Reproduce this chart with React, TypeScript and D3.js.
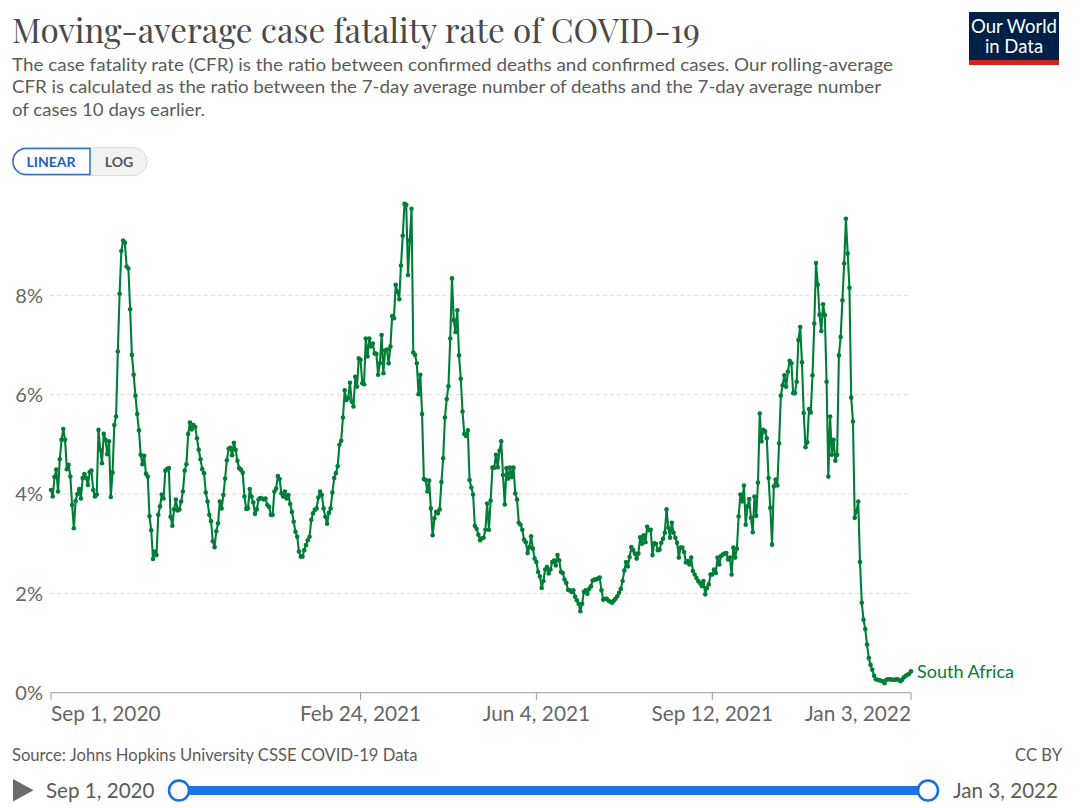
import React from "react";
import * as d3 from "d3";

// ---- Data: daily rolling-average CFR (%) for South Africa, starting 2020-09-01 ----
const seriesName = "South Africa";
const startDate = "2020-09-01";
const endDate = "2022-01-03";

// 2020-09-01 .. 2020-12-29
const cfrSepDec2020 = [
  4.08, 3.95, 4.34, 4.49, 4.05, 4.70, 5.09, 5.31, 5.09, 4.50,
  4.59, 4.35, 3.78, 3.31, 3.86, 4.00, 4.10, 3.91, 4.32, 4.40,
  4.32, 4.18, 4.44, 4.47, 4.08, 3.95, 3.99, 5.29, 4.89, 4.62,
  5.21, 5.09, 4.80, 5.06, 3.94, 4.43, 5.39, 5.56, 6.87, 8.03,
  8.89, 9.10, 9.06, 8.58, 8.54, 7.72, 6.80, 6.40, 5.98, 5.61,
  5.28, 4.79, 4.60, 4.77, 4.41, 4.35, 3.55, 3.27, 2.69, 2.84,
  2.77, 3.58, 3.75, 3.99, 3.91, 4.47, 4.50, 4.52, 3.54, 3.36,
  3.69, 3.89, 3.67, 3.69, 3.85, 4.05, 4.47, 4.60, 5.21, 5.44,
  5.30, 5.39, 5.35, 5.12, 4.89, 4.70, 4.50, 4.42, 4.03, 3.85,
  3.58, 3.45, 3.05, 2.93, 3.25, 3.41, 3.85, 3.71, 3.98, 4.31,
  4.68, 4.91, 4.93, 4.78, 5.03, 4.89, 4.67, 4.52, 4.49, 4.43,
  3.95, 3.70, 3.71, 4.10, 3.95, 3.83, 3.60, 3.69, 3.89, 3.92,
];

// 2020-12-30 .. 2021-04-17
const cfrDec2020Apr2021 = [
  3.91, 3.89, 3.91, 3.78, 3.74, 3.58, 3.58, 4.05, 4.11, 4.36,
  4.30, 4.01, 3.95, 4.05, 3.91, 3.98, 3.80, 3.64, 3.44, 3.24,
  3.14, 2.84, 2.74, 2.74, 2.87, 2.97, 3.07, 3.14, 3.48, 3.61,
  3.68, 3.71, 3.93, 4.05, 3.98, 3.71, 3.54, 3.40, 3.62, 3.71,
  4.03, 4.32, 4.42, 4.56, 4.99, 5.07, 5.54, 6.09, 5.89, 5.93,
  6.24, 5.86, 5.76, 6.36, 6.16, 6.73, 6.70, 6.23, 6.21, 7.13,
  6.77, 7.13, 6.97, 7.03, 6.83, 6.82, 6.40, 6.63, 7.20, 6.43,
  6.89, 6.91, 6.63, 6.97, 7.58, 7.54, 8.21, 8.07, 7.92, 8.60,
  9.20, 9.84, 9.82, 8.41, 9.10, 9.74, 6.85, 6.80, 6.63, 6.01,
  6.40, 5.61, 4.30, 4.28, 4.05, 4.27, 3.71, 3.17, 3.51, 3.64,
  3.61, 3.69, 4.24, 4.72, 5.54, 5.91, 6.17, 7.13, 8.34,
];

// 2021-04-18 .. 2021-08-12
const cfrAprAug2021 = [
  7.50, 7.26, 7.70, 6.79, 6.32, 5.66, 5.21, 5.17, 5.28, 4.28,
  4.13, 3.99, 3.36, 3.30, 3.18, 3.07, 3.11, 3.12, 3.28, 3.81,
  3.28, 3.87, 4.53, 4.53, 4.79, 4.54, 4.87, 5.06, 4.38, 3.79,
  4.52, 4.31, 4.53, 4.34, 4.53, 4.01, 3.89, 3.42, 3.38, 3.28,
  3.08, 3.03, 2.81, 2.93, 3.15, 2.90, 2.70, 2.63, 2.43, 2.34,
  2.11, 2.25, 2.48, 2.53, 2.40, 2.48, 2.63, 2.66, 2.56, 2.77,
  2.66, 2.43, 2.41, 2.28, 2.21, 2.07, 2.06, 2.03, 2.06, 1.93,
  1.86, 1.79, 1.64, 1.79, 2.03, 2.06, 1.99, 2.09, 2.14, 2.26,
  2.28, 2.28, 2.30, 2.32, 2.06, 1.87, 1.89, 1.89, 1.85, 1.83,
  1.81, 1.85, 1.89, 1.94, 2.01, 2.09, 2.25, 2.46, 2.63, 2.54,
  2.73, 2.93, 2.87, 2.80, 2.70, 2.80, 3.13, 3.00, 3.17, 3.03,
  3.34, 3.27, 3.28, 2.77, 3.01, 3.00, 2.87,
];

// 2021-08-13 .. 2021-10-31
const cfrAugOct2021 = [
  2.88, 3.02, 3.10, 3.22, 3.69, 3.32, 3.12, 3.42, 3.22, 3.12,
  3.02, 2.72, 2.92, 2.92, 2.83, 2.62, 2.65, 2.58, 2.72, 2.45,
  2.38, 2.31, 2.25, 2.21, 2.15, 2.25, 1.98, 2.11, 2.18, 2.38,
  2.38, 2.48, 2.41, 2.72, 2.58, 2.75, 2.78, 2.80, 2.81, 2.68,
  2.72, 2.38, 2.92, 2.72, 2.90, 3.55, 3.99, 3.85, 4.17, 3.38,
  3.75, 3.90, 3.52, 3.23, 3.95, 3.56, 4.23, 5.62, 5.06, 5.29,
  5.26, 5.12, 4.32, 3.72, 2.98, 4.15, 4.29, 4.17, 5.02, 5.98,
  6.19, 6.39, 6.16, 6.46, 6.68, 6.63, 6.03, 6.03, 6.26, 7.10,
];

// 2021-11-01 .. 2022-01-03
const cfrNov2021Jan2022 = [
  7.36, 6.65, 5.63, 4.94, 5.04, 5.71, 5.64, 6.39, 7.43, 8.65,
  8.21, 7.61, 7.28, 7.82, 7.60, 6.26, 4.35, 5.56, 4.79, 5.09,
  4.67, 4.79, 6.79, 7.16, 7.90, 8.64, 9.54, 8.84, 8.15, 5.94,
  5.46, 3.52, 3.65, 3.85, 2.63, 1.81, 1.47, 1.28, 0.97, 0.70,
  0.56, 0.46, 0.34, 0.27, 0.26, 0.25, 0.24, 0.23, 0.19, 0.26,
  0.27, 0.27, 0.26, 0.26, 0.26, 0.27, 0.26, 0.23, 0.26, 0.31,
  0.34, 0.36, 0.38, 0.43,
];

const xTickDates = ["2020-09-01", "2021-02-24", "2021-06-04", "2021-09-12", "2022-01-03"];
const xTickLabels = ["Sep 1, 2020", "Feb 24, 2021", "Jun 4, 2021", "Sep 12, 2021", "Jan 3, 2022"];
const yTicks = [0, 2, 4, 6, 8];

const titleText = "Moving-average case fatality rate of COVID-19";
const subtitleLines = [
  "The case fatality rate (CFR) is the ratio between confirmed deaths and confirmed cases. Our rolling-average",
  "CFR is calculated as the ratio between the 7-day average number of deaths and the 7-day average number",
  "of cases 10 days earlier.",
];
const sourceText = "Source: Johns Hopkins University CSSE COVID-19 Data";

// ---- Styles ----
const GREEN = "#007e38";
const GREY_TEXT = "#5b5b5b";
const SANS = "Lato, 'Noto Sans', sans-serif";

export default function App() {
  const parse = d3.timeParse("%Y-%m-%d");
  const start = parse(startDate)!;
  const allValues = [
    ...cfrSepDec2020,
    ...cfrDec2020Apr2021,
    ...cfrAprAug2021,
    ...cfrAugOct2021,
    ...cfrNov2021Jan2022,
  ];
  const data = allValues.map((v, i) => ({ date: d3.timeDay.offset(start, i), v }));

  const x = d3.scaleTime().domain([start, parse(endDate)!]).range([51, 911]);
  const y = d3.scaleLinear().domain([0, 8]).range([692.7, 295.3]);

  const line = d3
    .line<{ date: Date; v: number }>()
    .x((d) => x(d.date))
    .y((d) => y(d.v));

  const last = data[data.length - 1];
  const tickDates = xTickDates.map((s) => parse(s)!);

  return (
    <svg
      width={1080}
      height={808}
      viewBox="0 0 1080 808"
      style={{ position: "absolute", left: 0, top: 0, background: "#fff" }}
    >
      <rect x={0} y={0} width={1080} height={808} fill="#fff" />

      {/* Title */}
      <text
        x={12}
        y={43}
        fontFamily="'Playfair Display', 'Liberation Serif', 'DejaVu Serif', serif"
        fontSize={33}
        fill="#4a4a4a"
        textLength={688}
        lengthAdjust="spacingAndGlyphs"
      >
        {titleText}
      </text>

      {/* Subtitle */}
      {subtitleLines.map((t, i) => (
        <text
          key={i}
          x={12}
          y={71 + i * 22.3}
          fontFamily={SANS}
          fontSize={17}
          fill={GREY_TEXT}
          textLength={[881, 869, 193][i]}
          lengthAdjust="spacingAndGlyphs"
        >
          {t}
        </text>
      ))}

      {/* Logo */}
      <rect x={969} y={12} width={90} height={53} fill="#002147" />
      <rect x={969} y={60} width={90} height={5} fill="#ce261e" />
      <text x={1014} y={33} textAnchor="middle" fontFamily={SANS} fontSize={18.5} fill="#fff">
        Our World
      </text>
      <text x={1014} y={53} textAnchor="middle" fontFamily={SANS} fontSize={18.5} fill="#fff">
        in Data
      </text>

      {/* LINEAR / LOG toggle */}
      <rect x={12} y={147.5} width={135} height={28} rx={14} fill="#f2f2f2" stroke="#dcdcdc" />
      <path
        d="M90,148.5 L26,148.5 A13,13 0 0 0 26,174.5 L90,174.5 Z"
        fill="#fff"
        stroke="#2f6fc6"
        strokeWidth={1.5}
      />
      <text x={51} y={167} textAnchor="middle" fontFamily={SANS} fontWeight={700} fontSize={14} fill="#1d5fbf">
        LINEAR
      </text>
      <text x={119} y={167} textAnchor="middle" fontFamily={SANS} fontWeight={700} fontSize={14} fill="#4c5866">
        LOG
      </text>

      {/* Grid lines */}
      {yTicks
        .filter((t) => t > 0)
        .map((t) => (
          <line
            key={t}
            x1={50}
            x2={911}
            y1={y(t)}
            y2={y(t)}
            stroke="#dcdcdc"
            strokeDasharray="4,3"
          />
        ))}

      {/* Y labels */}
      {yTicks.map((t) => (
        <text
          key={t}
          x={43}
          y={y(t)}
          dy="0.36em"
          textAnchor="end"
          fontFamily={SANS}
          fontSize={20}
          fill="#666"
        >
          {`${t}%`}
        </text>
      ))}

      {/* X axis */}
      <line x1={51} x2={911} y1={692.7} y2={692.7} stroke="#9a9a9a" strokeWidth={1} />
      {tickDates.map((d, i) => (
        <line key={i} x1={x(d)} x2={x(d)} y1={692.7} y2={700} stroke="#9a9a9a" strokeWidth={1} />
      ))}
      {tickDates.map((d, i) => (
        <text
          key={i}
          x={x(d)}
          y={721}
          textAnchor={i === 0 ? "start" : i === tickDates.length - 1 ? "end" : "middle"}
          fontFamily={SANS}
          fontSize={20.8}
          fill="#666"
        >
          {xTickLabels[i]}
        </text>
      ))}

      {/* Series */}
      <path d={line(data) || ""} fill="none" stroke={GREEN} strokeWidth={2.1} strokeLinejoin="round" />
      {data.map((d, i) => (
        <circle key={i} cx={x(d.date)} cy={y(d.v)} r={2.3} fill={GREEN} />
      ))}
      <text x={x(last.date) + 6} y={y(last.v)} dy="0.36em" fontFamily={SANS} fontSize={18} fill={GREEN}>
        {seriesName}
      </text>

      {/* Footer */}
      <text x={12} y={761} fontFamily={SANS} fontSize={16.6} fill={GREY_TEXT}>
        {sourceText}
      </text>
      <text x={1062} y={761} textAnchor="end" fontFamily={SANS} fontSize={16.6} fill={GREY_TEXT}>
        CC BY
      </text>

      {/* Timeline */}
      <path d="M13,779 L13,801.5 L33.5,790.2 Z" fill="#6b6b6b" />
      <text x={46} y={797.5} fontFamily={SANS} fontSize={20.6} fill={GREY_TEXT}>
        {xTickLabels[0]}
      </text>
      <rect x={179} y={786} width={749} height={9} rx={4.5} fill="#1a73e8" />
      <circle cx={179} cy={790.5} r={10} fill="#fff" stroke="#1a6fd6" strokeWidth={2.5} />
      <circle cx={928} cy={790.5} r={10} fill="#fff" stroke="#1a6fd6" strokeWidth={2.5} />
      <text x={1058} y={797.5} textAnchor="end" fontFamily={SANS} fontSize={20.6} fill={GREY_TEXT}>
        {xTickLabels[xTickLabels.length - 1]}
      </text>
    </svg>
  );
}
